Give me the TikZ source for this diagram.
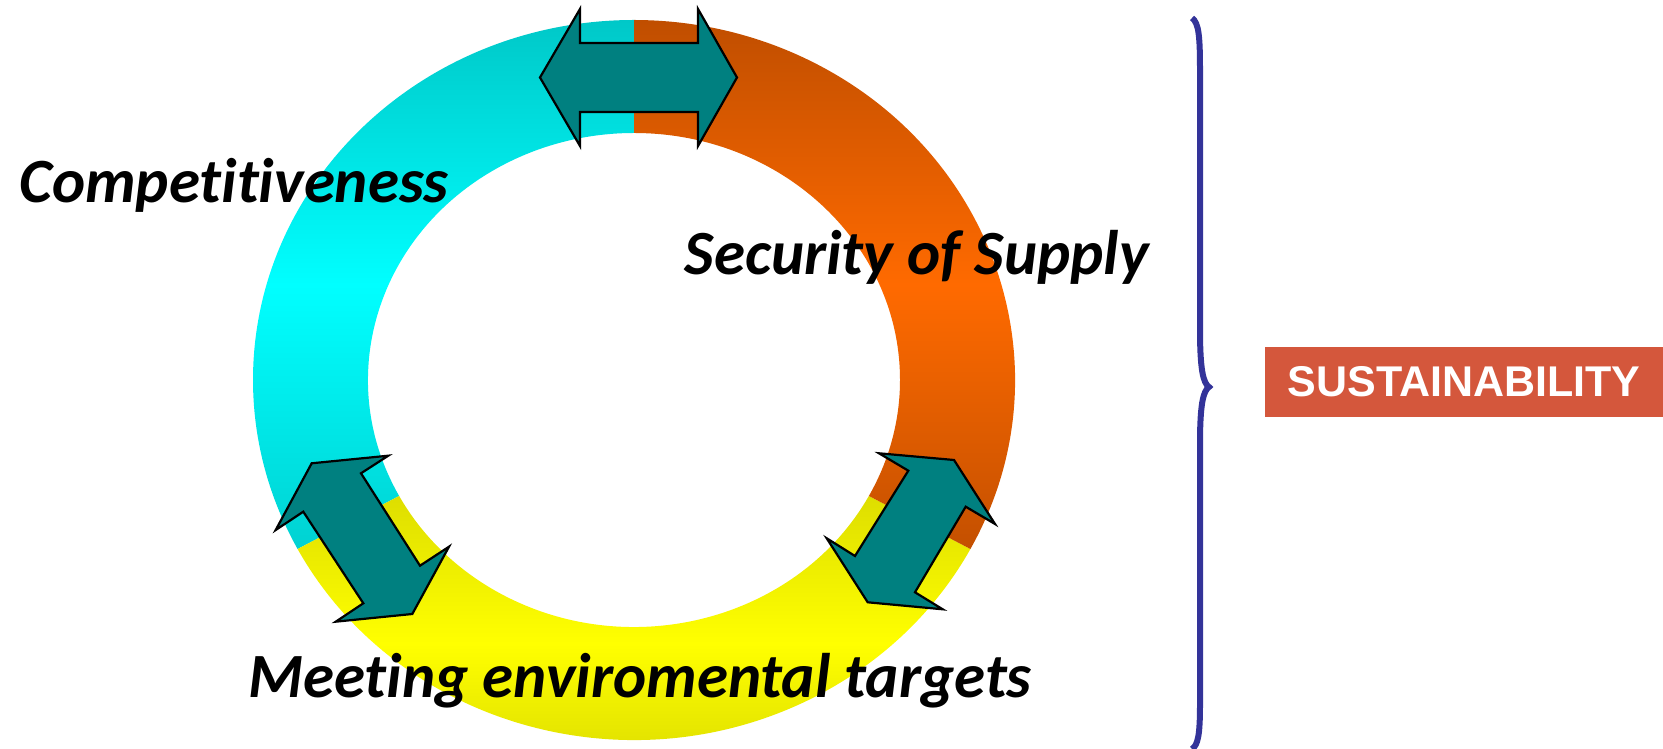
\documentclass[tikz,border=0pt]{standalone}
\usepackage{fontspec}
\usepackage{tikz}
\newfontfamily\labelfont[Ligatures=NoCommon]{Carlito}
\newfontfamily\boxfont{Liberation Sans}
\definecolor{cyanTop}{RGB}{0,200,200}
\definecolor{cyanMid}{RGB}{0,255,255}
\definecolor{cyanBot}{RGB}{0,210,210}
\definecolor{orangeTop}{RGB}{192,78,0}
\definecolor{orangeMid}{RGB}{255,106,0}
\definecolor{orangeBot}{RGB}{196,80,0}
\definecolor{yellowTop}{RGB}{222,222,0}
\definecolor{yellowMid}{RGB}{255,255,0}
\definecolor{yellowBot}{RGB}{214,214,0}
\definecolor{arrowTeal}{RGB}{0,128,128}
\definecolor{braceBlue}{RGB}{51,51,153}
\definecolor{sustRed}{RGB}{212,87,60}

\begin{document}
\begin{tikzpicture}[x=1pt,y=1pt,
    goal/.style={inner sep=0pt, anchor=base, font=\labelfont\bfseries\itshape\fontsize{63}{70}\selectfont},
    twoway/.style={fill=arrowTeal, draw=black, line width=2.2pt, line join=miter}]
				\useasboundingbox (0,0) rectangle (1663,749);
				\coordinate (ctr) at (634,369);
				
				\foreach \a/\b/\ct/\cm/\cb in {90/208/cyanTop/cyanMid/cyanBot, 208/332/yellowTop/yellowMid/yellowBot, -28/90/orangeTop/orangeMid/orangeBot}
					\shade[top color=\ct, bottom color=\cb, middle color=\cm] ([shift={(ctr)}]\a:381pt and 360pt) arc[start angle=\a, end angle=\b, x radius=381pt, y radius=360pt] -- ([shift={(ctr)}]\b:266pt and 247pt) arc[start angle=\b, end angle=\a, x radius=266pt, y radius=247pt] -- cycle;
				
				\draw[twoway] (540,671.5) -- (580,740) -- (580,706) -- (698,706) -- (698,740) -- (737,671.5) -- (698,603) -- (698,637) -- (580,637) -- (580,603) -- cycle;
				\draw[twoway] (311.7,285.7) -- (388.3,293.3) -- (361,275.7) -- (420,183.3) -- (449,202.3) -- (412.3,135) -- (335.7,127.3) -- (363.3,145.7) -- (303.3,237.3) -- (275.7,219) -- cycle;
				\draw[twoway] (879,295.7) -- (954,289) -- (995,225) -- (965.7,242.3) -- (915,156.7) -- (942.7,139.7) -- (867.7,146.7) -- (826.7,210.7) -- (855,193) -- (908.3,278.3) -- cycle;
				
				\node[goal] (compet) at (234,546) {Competitiveness};
				\node[goal] (supply) at (917,474) {Security of Supply};
				\node[goal] (envir) at (640,51) {Meeting enviromental targets};
				
				\draw[braceBlue, line width=6pt] (1192,731) .. controls (1199,726) and (1200,712) .. (1200,677) -- (1200,420) .. controls (1200,380) and (1203,366) .. (1209,362) .. controls (1203,358) and (1200,344) .. (1200,305) -- (1200,45) .. controls (1200,14) and (1198,4) .. (1192,0);
				
				\node[fill=sustRed, text=white, minimum width=398pt, minimum height=70pt, inner sep=0pt, font=\boxfont\bfseries\fontsize{43}{50}\selectfont] (sust) at (1464,367) {SUSTAINABILITY};
			\end{tikzpicture}
\end{document}
